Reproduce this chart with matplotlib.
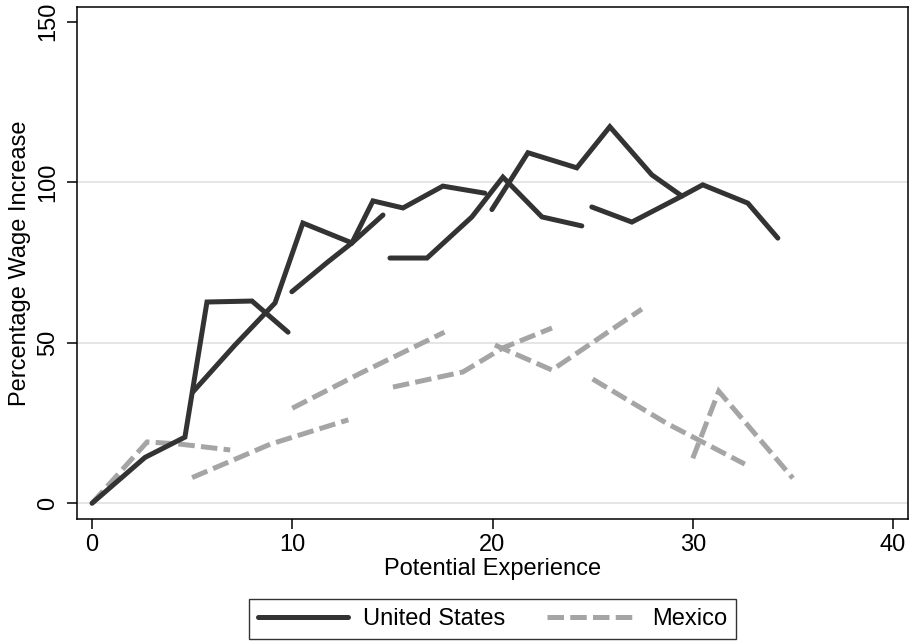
import matplotlib
matplotlib.use("Agg")
import matplotlib.pyplot as plt

plt.rcParams['font.family'] = ['Liberation Sans', 'DejaVu Sans']

# United States: cohort segments (x = potential experience, y = % wage increase)
us1_x = [0, 2.65, 4.64, 5.74, 7.99, 9.79]
us1_y = [0, 14.3, 20.6, 62.7, 63.0, 53.3]
us2_x = [5.04, 7.14, 9.14, 10.53, 12.98, 14.53]
us2_y = [34.7, 49.3, 62.4, 87.3, 81.1, 89.8]
us3_x = [9.98, 11.78, 12.98, 14.03, 15.53, 17.52, 19.62]
us3_y = [65.9, 75.2, 81.1, 94.2, 92.0, 98.8, 96.6]
us4_x = [14.88, 16.73, 18.97, 20.52, 22.47, 24.46]
us4_y = [76.4, 76.4, 89.2, 101.6, 89.2, 86.4]
us5_x = [19.97, 21.77, 24.21, 25.86, 27.96, 29.46]
us5_y = [91.5, 109.2, 104.5, 117.3, 102.3, 95.7]
us6_x = [24.96, 26.96, 29.46, 30.5, 32.75, 34.25]
us6_y = [92.3, 87.6, 95.7, 99.2, 93.5, 82.6]

# Mexico: cohort segments
mx1_x = [0, 2.75, 4.3, 6.9]
mx1_y = [0, 19.1, 18.5, 16.6]
mx2_x = [5.0, 8.9, 12.8]
mx2_y = [8.0, 18.4, 26.0]
mx3_x = [10.0, 13.4, 17.6]
mx3_y = [29.6, 40.5, 53.3]
mx4_x = [15.03, 18.52, 20.52, 22.97]
mx4_y = [36.2, 40.9, 48.4, 54.6]
mx5_x = [20.12, 22.97, 27.46]
mx5_y = [49.3, 41.5, 60.5]
mx6_x = [25.0, 28.7, 32.6]
mx6_y = [38.7, 24.9, 12.2]
mx7_x = [30.0, 31.3, 35.0]
mx7_y = [14.0, 34.9, 7.8]

us_segments = [(us1_x, us1_y), (us2_x, us2_y), (us3_x, us3_y),
               (us4_x, us4_y), (us5_x, us5_y), (us6_x, us6_y)]
mx_segments = [(mx1_x, mx1_y), (mx2_x, mx2_y), (mx3_x, mx3_y), (mx4_x, mx4_y),
               (mx5_x, mx5_y), (mx6_x, mx6_y), (mx7_x, mx7_y)]

x_ticks = [0, 10, 20, 30, 40]
y_ticks = [0, 50, 100, 150]
series_names = ["United States", "Mexico"]

US_COLOR = "#333333"
MX_COLOR = "#a5a5a5"
FS = 17

fig = plt.figure(figsize=(9.10, 6.43), dpi=100)
ax = fig.add_axes([77/910, 1-519/643, (908-77)/910, (519-7)/643])

for y in [0, 50, 100]:
    ax.axhline(y, color="#e3e3e3", lw=1.3, zorder=0)

for i, (xs, ys) in enumerate(mx_segments):
    ax.plot(xs, ys, color=MX_COLOR, lw=3.6, dashes=(3.3, 1.25),
            dash_capstyle='butt', dash_joinstyle='miter',
            label=series_names[1] if i == 0 else None, zorder=2)
for i, (xs, ys) in enumerate(us_segments):
    ax.plot(xs, ys, color=US_COLOR, lw=3.6, solid_capstyle='round',
            solid_joinstyle='miter',
            label=series_names[0] if i == 0 else None, zorder=3)

ax.set_xlim(-0.75, 40.75)
ax.set_ylim(-4.9, 154.6)
ax.set_xticks(x_ticks)
ax.set_yticks(y_ticks)
ax.set_xticklabels([str(t) for t in x_ticks], fontsize=FS)
ax.set_yticklabels([str(t) for t in y_ticks], fontsize=FS, rotation=90, va='center')
ax.tick_params(axis='both', direction='out', length=7, width=1.1, color='black')
ax.tick_params(axis='x', pad=4)
ax.tick_params(axis='y', pad=6)
for s in ax.spines.values():
    s.set_color('black')
    s.set_linewidth(1.1)

ax.set_xlabel("Potential Experience", fontsize=FS, labelpad=1)
ax.set_ylabel("Percentage Wage Increase", fontsize=FS, labelpad=4)

handles, labels = ax.get_legend_handles_labels()
order = [labels.index(n) for n in series_names]
leg = fig.legend([handles[i] for i in order], [labels[i] for i in order],
                 loc='center', bbox_to_anchor=(492.5/910, 1-619/643),
                 bbox_transform=fig.transFigure, ncol=2, fontsize=FS,
                 frameon=True, fancybox=False, handlelength=3.8,
                 handletextpad=0.65, columnspacing=1.75, borderpad=0.4)
leg.get_frame().set_edgecolor('black')
leg.get_frame().set_linewidth(1.0)

fig.savefig("out.png", dpi=100)
